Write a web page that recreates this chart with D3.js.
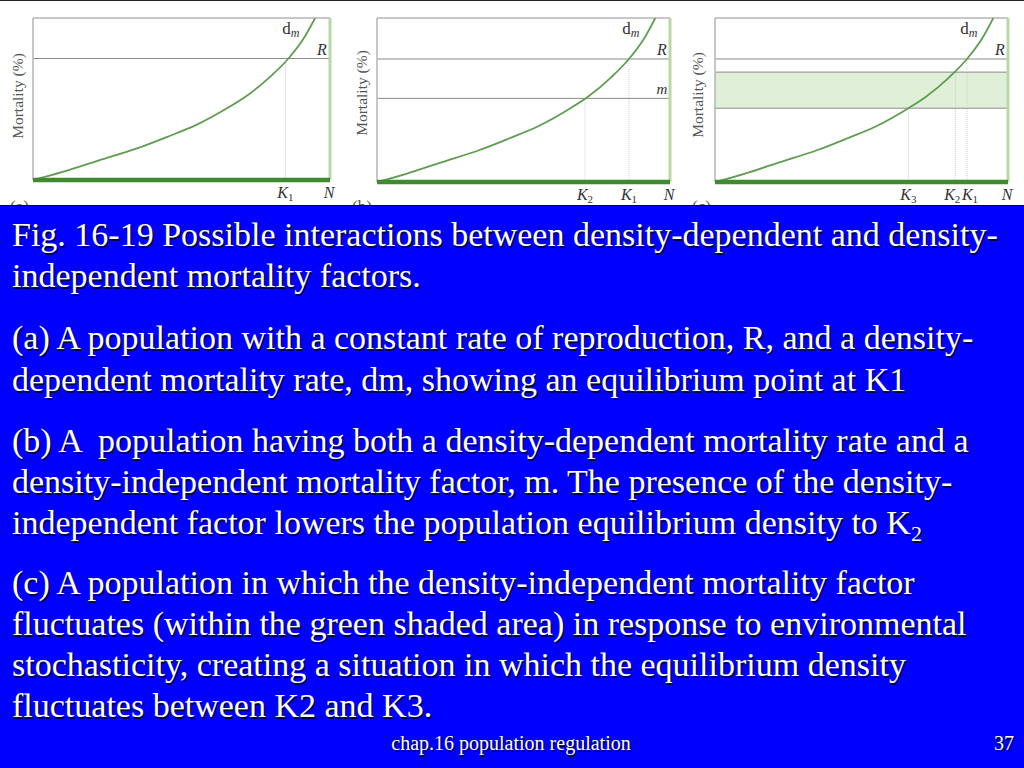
<!DOCTYPE html>
<html><head><meta charset="utf-8">
<script src="https://cdn.jsdelivr.net/npm/d3@7"></script>
<style>html,body{margin:0;padding:0;background:#fff;}svg{display:block;}</style>
</head><body>
<svg id="c" width="1024" height="768"></svg>
<script>
// ---- data ----
const curveN    = [0, 10, 22, 35, 45, 55, 66, 72, 80, 86, 91, 95];
const curveMort = [0, 5, 12, 19.5, 26.5, 34, 45, 52, 64, 75, 87, 100];
const panelIds  = ["a", "b", "c"];
const levelR    = [75, 75, 75];
const levelM    = [null, 51, null];
const bandLow   = [null, null, 45];
const bandHigh  = [null, null, 67];
const kNames    = [["1"], ["2", "1"], ["3", "2", "1"]];
const kValues   = [[85], [71, 86], [66, 82, 86]];
const captionLines = [
  ["Fig. 16-19 Possible interactions between density-dependent and density-", ""],
  ["independent mortality factors.", ""],
  ["(a) A population with a constant rate of reproduction, R, and a density-", ""],
  ["dependent mortality rate, dm, showing an equilibrium point at K1", ""],
  ["(b) A \u00a0population having both a density-dependent mortality rate and a", ""],
  ["density-independent mortality factor, m. The presence of the density-", ""],
  ["independent factor lowers the population equilibrium density to K", "2"],
  ["(c) A population in which the density-independent mortality factor", ""],
  ["fluctuates (within the green shaded area) in response to environmental", ""],
  ["stochasticity, creating a situation in which the equilibrium density", ""],
  ["fluctuates between K2 and K3.", ""]
];
const footerText = "chap.16 population regulation";
const pageNum = "37";

// ---- layout ----
const svg = d3.select("#c");
const boxes = [
  {l: 33, t: 18, r: 330, b: 180, lx: 18, ly: 96, px: 10},
  {l: 377, t: 18, r: 670, b: 182, lx: 362, ly: 93, px: 352},
  {l: 715, t: 18, r: 1008, b: 182, lx: 698, ly: 95, px: 692}
];
const kLabelShift = [[0], [0, 0], [0, -3, 3]];
const captionY = [246, 287, 349, 391, 452, 493, 534, 594, 635, 676, 717];

svg.append("rect").attr("x",0).attr("y",0).attr("width",1024).attr("height",206).attr("fill","#fff");
svg.append("line").attr("x1",0).attr("x2",1024).attr("y1",0.5).attr("y2",0.5).attr("stroke","#222").attr("stroke-width",1);

const pts = curveN.map((n,i)=>[n, curveMort[i]]);
const serif = "'Liberation Serif','Times New Roman',serif";

panelIds.forEach((id, i) => {
  const bx = boxes[i];
  const x = d3.scaleLinear().domain([0,100]).range([bx.l, bx.r]);
  const y = d3.scaleLinear().domain([0,100]).range([bx.b, bx.t]);
  const g = svg.append("g");
  const clipId = "clip" + id;
  svg.append("clipPath").attr("id", clipId).append("rect")
    .attr("x", bx.l).attr("y", bx.t).attr("width", bx.r-bx.l).attr("height", bx.b-bx.t);

  if (bandLow[i] !== null) {
    g.append("rect").attr("x", x(0)).attr("width", x(100)-x(0))
      .attr("y", y(bandHigh[i])).attr("height", y(bandLow[i]) - y(bandHigh[i]))
      .attr("fill", "#e0efd8");
    [bandLow[i], bandHigh[i]].forEach(v => g.append("line")
      .attr("x1", x(0)).attr("x2", x(100)).attr("y1", y(v)).attr("y2", y(v))
      .attr("stroke", "#8a8a8a").attr("stroke-width", 1));
  }
  g.append("line").attr("x1", x(0)).attr("x2", x(100)).attr("y1", y(levelR[i])).attr("y2", y(levelR[i]))
    .attr("stroke", "#8a8a8a").attr("stroke-width", 1);
  if (levelM[i] !== null) {
    g.append("line").attr("x1", x(0)).attr("x2", x(100)).attr("y1", y(levelM[i])).attr("y2", y(levelM[i]))
      .attr("stroke", "#8a8a8a").attr("stroke-width", 1);
  }
  const interp = n => {
    for (let j=1;j<pts.length;j++) if (n<=pts[j][0]) {
      const a=pts[j-1], b=pts[j]; return a[1]+(b[1]-a[1])*(n-a[0])/(b[0]-a[0]); }
    return 100; };
  kValues[i].forEach((kv, j) => {
    g.append("line").attr("x1", x(kv)).attr("x2", x(kv)).attr("y1", y(interp(kv))).attr("y2", y(0))
      .attr("stroke", "#cccccc").attr("stroke-width", 1).attr("stroke-dasharray", "1,1");
    const t = g.append("text").attr("x", x(kv) + kLabelShift[i][j]).attr("y", bx.b + 18).attr("text-anchor", "middle")
      .attr("font-family", serif).attr("font-size", 16).attr("font-style", "italic").attr("fill", "#333");
    t.append("tspan").text("K");
    t.append("tspan").attr("font-size", 11).attr("dy", 3).attr("font-style", "normal").text(kNames[i][j]);
  });
  g.append("line").attr("x1", bx.l).attr("x2", bx.r).attr("y1", bx.t).attr("y2", bx.t).attr("stroke", "#b4b4b4").attr("stroke-width", 1.5);
  g.append("line").attr("x1", bx.l).attr("x2", bx.l).attr("y1", bx.t).attr("y2", bx.b).attr("stroke", "#b4b4b4").attr("stroke-width", 1.5);
  g.append("line").attr("x1", bx.r).attr("x2", bx.r).attr("y1", bx.t).attr("y2", bx.b).attr("stroke", "#b9d9a4").attr("stroke-width", 3);
  g.append("path").datum(pts).attr("clip-path", "url(#" + clipId + ")")
    .attr("d", d3.line().x(d=>x(d[0])).y(d=>y(d[1])).curve(d3.curveMonotoneX))
    .attr("fill", "none").attr("stroke", "#5f9d50").attr("stroke-width", 1.8);
  g.append("line").attr("x1", bx.l).attr("x2", bx.r).attr("y1", bx.b).attr("y2", bx.b).attr("stroke", "#3f8a2e").attr("stroke-width", 4.5);
  const dm = g.append("text").attr("x", x(95) - 33).attr("y", bx.t + 16)
    .attr("font-family", serif).attr("font-size", 17).attr("fill", "#333");
  dm.append("tspan").text("d");
  dm.append("tspan").attr("font-size", 12).attr("dy", 3).attr("font-style", "italic").text("m");
  g.append("text").attr("x", bx.r - 8).attr("y", y(levelR[i]) - 4).attr("text-anchor", "middle")
    .attr("font-family", serif).attr("font-size", 16).attr("font-style", "italic").attr("fill", "#333").text("R");
  if (levelM[i] !== null) {
    g.append("text").attr("x", bx.r - 8).attr("y", y(levelM[i]) - 4).attr("text-anchor", "middle")
      .attr("font-family", serif).attr("font-size", 15).attr("font-style", "italic").attr("fill", "#333").text("m");
  }
  g.append("text").attr("x", bx.r - 1).attr("y", bx.b + 18).attr("text-anchor", "middle")
    .attr("font-family", serif).attr("font-size", 16).attr("font-style", "italic").attr("fill", "#333").text("N");
  g.append("text").attr("transform", `translate(${bx.lx},${bx.ly}) rotate(-90)`).attr("text-anchor", "middle")
    .attr("dy", "0.35em").attr("font-family", serif).attr("font-size", 15.5).attr("fill", "#555").text("Mortality (%)");
  g.append("text").attr("x", bx.px).attr("y", 212).attr("font-family", serif).attr("font-size", 17).attr("fill", "#555").text("(" + id + ")");
});

svg.append("rect").attr("x",0).attr("y",205).attr("width",1024).attr("height",563).attr("fill","#0000ff");
svg.append("line").attr("x1",0).attr("x2",1024).attr("y1",205.5).attr("y2",205.5).attr("stroke","#000060").attr("stroke-width",1);

function capText(layer, dx, dy, color) {
  captionLines.forEach((ln, i) => {
    const t = layer.append("text").attr("x", 12 + dx).attr("y", captionY[i] + dy)
      .attr("font-family", serif).attr("font-size", 34).attr("fill", color);
    t.append("tspan").text(ln[0]);
    if (ln[1]) t.append("tspan").attr("font-size", 22).attr("dy", 7).text(ln[1]);
  });
  layer.append("text").attr("x", 511 + dx).attr("y", 750 + dy).attr("text-anchor", "middle")
    .attr("font-family", serif).attr("font-size", 20).attr("fill", color).text(footerText);
  layer.append("text").attr("x", 1014 + dx).attr("y", 750 + dy).attr("text-anchor", "end")
    .attr("font-family", serif).attr("font-size", 20).attr("fill", color).text(pageNum);
}
capText(svg.append("g"), 1.5, 1.5, "#00004a");
capText(svg.append("g"), 0, 0, "#ffffff");
</script>
</body></html>
